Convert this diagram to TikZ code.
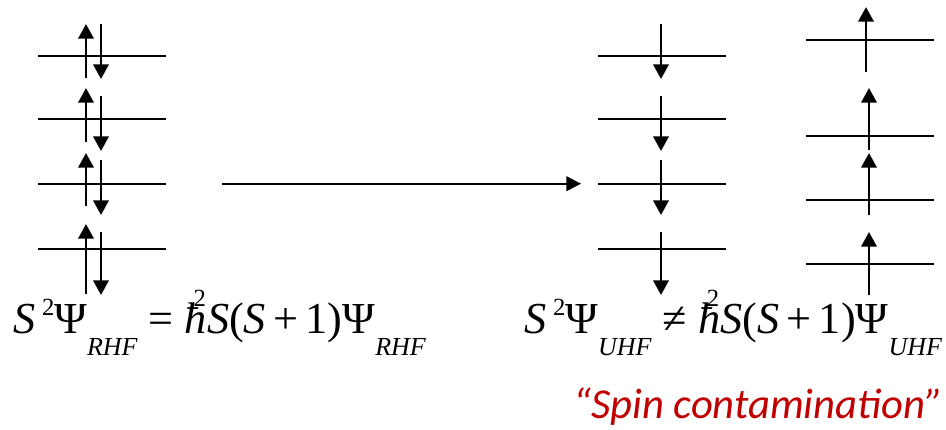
\documentclass[tikz,border=0pt]{standalone}
\usepackage{fontspec}
\setmainfont{Liberation Serif}
\newfontfamily\calibrifont{Carlito}
\usetikzlibrary{arrows.meta}
\definecolor{spinred}{HTML}{C00000}
\newcommand\orbsub[1]{\raisebox{-0.5em}{\fontsize{19.5}{19.5}\selectfont\textit{#1}}}
\newcommand\orbsup[1]{\hspace{0.15em}\raisebox{0.4em}{\fontsize{18.5}{18.5}\selectfont #1}}
\newcommand\hbarsq{\textit{ħ}\rlap{\hspace{-0.3em}\raisebox{0.6em}{\fontsize{18.5}{18.5}\selectfont 2}}}
\tikzset{
  level/.style={line width=1.5pt},
  spin/.style={line width=2pt,-{Triangle[length=11pt,width=11.5pt]}},
  eqn/.style={anchor=base west,inner sep=0pt,font=\fontsize{33.2}{33.2}\selectfont},
}
\begin{document}
\begin{tikzpicture} [x=0.75pt,y=-0.75pt]
\useasboundingbox (0,0) rectangle (946,429);

\draw [level] (38,55.7) -- (166,55.7);
\draw [level] (38,119) -- (166,119);
\draw [level] (38,183.7) -- (166,183.7);
\draw [level] (38,249) -- (166,249);

\draw [spin] (86,78) -- (86,24);
\draw [spin] (101,24) -- (101,79);
\draw [spin] (86,142) -- (86,88);
\draw [spin] (101,96) -- (101,151);
\draw [spin] (86,206) -- (86,153);
\draw [spin] (101,160) -- (101,215);
\draw [spin] (86,294) -- (86,224);
\draw [spin] (101,232) -- (101,295);

\coordinate (rhf) at (222,183.7);
\coordinate (uhf) at (581,183.7);
\draw [line width=1.5pt,-{Triangle[length=11pt,width=11pt]}] (rhf) -- (uhf);

\draw [level] (598,55.7) -- (726,55.7);
\draw [level] (598,119) -- (726,119);
\draw [level] (598,183.7) -- (726,183.7);
\draw [level] (598,249) -- (726,249);

\draw [spin] (661,24) -- (661,79);
\draw [spin] (661,96) -- (661,151);
\draw [spin] (661,160) -- (661,215);
\draw [spin] (661,232) -- (661,295);

\draw [level] (806,40) -- (934,40);
\draw [level] (806,136) -- (934,136);
\draw [level] (806,200) -- (934,200);
\draw [level] (806,264) -- (934,264);

\draw [spin] (866,72) -- (866,7);
\draw [spin] (869,150) -- (869,88);
\draw [spin] (869,215) -- (869,153);
\draw [spin] (869,295) -- (869,232);

\node [eqn] (eqrhf) at (13,333) {\textit{S}\orbsup{2}Ψ\orbsub{RHF} = \hbarsq\textit{S}(\textit{S}\,+\,1)Ψ\orbsub{RHF}};
\node [eqn] (equhf) at (524,333) {\textit{S}\orbsup{2}Ψ\orbsub{UHF} ≠ \hbarsq\textit{S}(\textit{S}\,+\,1)Ψ\orbsub{UHF}};

\node [anchor=base west,inner sep=0pt,text=spinred,font=\calibrifont\itshape\fontsize{32}{32}\selectfont] (spincont) at (573,418) {“Spin contamination”};
\end{tikzpicture}
\end{document}
